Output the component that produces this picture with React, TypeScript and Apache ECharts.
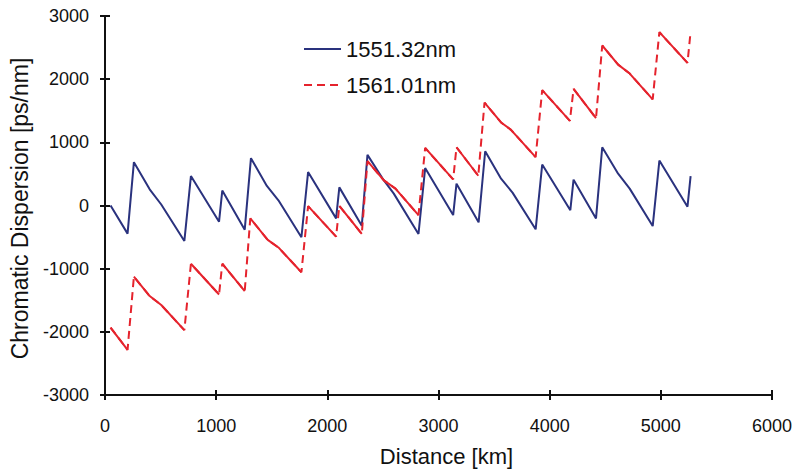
import React, { useEffect, useRef } from "react";
import * as echarts from "echarts";

const xTicks = [0, 1000, 2000, 3000, 4000, 5000, 6000];
const yTicks = [-3000, -2000, -1000, 0, 1000, 2000, 3000];

const blueName = "1551.32nm";
const redName = "1561.01nm";

const blueX = [50, 203, 260, 402, 506, 714, 773, 1026, 1055, 1257, 1313, 1456, 1560, 1767, 1827, 2079, 2108, 2310, 2361, 2509, 2598, 2820, 2880, 3132, 3162, 3361, 3420, 3563, 3666, 3874, 3933, 4186, 4215, 4417, 4473, 4616, 4720, 4927, 4987, 5240, 5268];
const blueY = [0, -445, 686, 256, 16, -561, 466, -256, 236, -382, 749, 309, 83, -503, 529, -204, 287, -319, 801, 397, 188, -451, 592, -152, 346, -267, 859, 424, 204, -377, 649, -74, 408, -204, 922, 503, 267, -325, 711, -20, 466];

const redX = [50, 203, 260, 402, 506, 714, 773, 1026, 1055, 1257, 1307, 1464, 1560, 1767, 1827, 2079, 2108, 2310, 2361, 2509, 2613, 2820, 2880, 3132, 3162, 3358, 3414, 3563, 3652, 3874, 3933, 4182, 4215, 4417, 4473, 4616, 4720, 4927, 4987, 5240, 5268];
const redY = [-1932, -2285, -1126, -1434, -1575, -1974, -922, -1409, -922, -1355, -204, -545, -664, -1057, -11, -492, -5, -451, 702, 397, 267, -152, 911, 413, 922, 471, 1629, 1315, 1198, 765, 1827, 1340, 1845, 1382, 2533, 2230, 2089, 1681, 2744, 2257, 2753];

const BLUE = "#2a327e";
const RED = "#e5232d";
const FONT = "'Liberation Sans', Arial, sans-serif";

export default function App() {
  const ref = useRef<HTMLDivElement>(null);
  useEffect(() => {
    if (!ref.current) return;
    const chart = echarts.init(ref.current, undefined, { renderer: "svg" });
    const blueData = blueX.map((x, i) => [x, blueY[i]]);
    const redData = redX.map((x, i) => [x, redY[i]]);
    // solid overlay for the descending parts (jumps stay dashed)
    const redSolid: any[] = [];
    for (let i = 0; i < redData.length; i++) {
      redSolid.push(redData[i]);
      if (i + 1 < redData.length && redData[i + 1][1] > redData[i][1]) {
        redSolid.push([redData[i][0], "-"]);
      }
    }
    const tickStyle = { color: "#111", width: 2 };
    const plain = (v: number) => String(v);
    chart.setOption({
      animation: false,
      backgroundColor: "#fff",
      grid: { left: 101, right: 20, top: 16, bottom: 74 },
      legend: {
        data: [blueName, redName],
        orient: "vertical",
        left: 298,
        top: 33,
        itemWidth: 37,
        itemHeight: 14,
        itemGap: 14,
        itemStyle: { opacity: 0 },
        textStyle: { fontFamily: FONT, fontSize: 22, color: "#111", lineHeight: 22 },
      },
      xAxis: [
        {
          type: "value",
          min: 0,
          max: 6000,
          interval: 1000,
          splitLine: { show: false },
          axisLine: { show: true, onZero: false, lineStyle: tickStyle },
          axisTick: { show: true, length: 5, lineStyle: tickStyle },
          name: "Distance [km]",
          nameLocation: "middle",
          nameGap: 50,
          nameTextStyle: { fontFamily: FONT, fontSize: 22, color: "#111", padding: [0, 0, 0, 16] },
          axisLabel: { fontFamily: FONT, fontSize: 18, color: "#111", margin: 22, formatter: plain, customValues: xTicks },
        },
        {
          type: "value",
          position: "bottom",
          min: 0,
          max: 6000,
          interval: 1000,
          splitLine: { show: false },
          axisLine: { show: false, onZero: false },
          axisTick: { show: true, inside: true, length: 5, lineStyle: tickStyle },
          axisLabel: { show: false },
        },
      ],
      yAxis: [
        {
          type: "value",
          min: -3000,
          max: 3000,
          interval: 1000,
          splitLine: { show: false },
          axisLine: { show: true, onZero: false, lineStyle: tickStyle },
          axisTick: { show: true, length: 5, lineStyle: tickStyle },
          name: "Chromatic Dispersion [ps/nm]",
          nameLocation: "middle",
          nameGap: 74,
          nameTextStyle: { fontFamily: FONT, fontSize: 23, color: "#111", padding: [0, 6, 0, 0] },
          axisLabel: { fontFamily: FONT, fontSize: 18, color: "#111", margin: 16, formatter: plain, customValues: yTicks },
        },
        {
          type: "value",
          position: "left",
          min: -3000,
          max: 3000,
          interval: 1000,
          splitLine: { show: false },
          axisLine: { show: false, onZero: false },
          axisTick: { show: true, inside: true, length: 5, lineStyle: tickStyle },
          axisLabel: { show: false },
        },
      ],
      series: [
        {
          name: blueName,
          type: "line",
          data: blueData,
          symbol: "none",
          lineStyle: { color: BLUE, width: 2 },
          itemStyle: { color: BLUE },
        },
        {
          name: redName,
          type: "line",
          data: redData,
          symbol: "none",
          lineStyle: { color: RED, width: 2, type: [8, 5] },
          itemStyle: { color: RED },
        },
        {
          name: "redSolid",
          type: "line",
          data: redSolid,
          symbol: "none",
          connectNulls: false,
          lineStyle: { color: RED, width: 2 },
          itemStyle: { color: RED },
        },
      ],
    });
    return () => chart.dispose();
  }, []);
  return <div ref={ref} style={{ width: 795, height: 472, position: "absolute", left: 0, top: 0 }} />;
}
